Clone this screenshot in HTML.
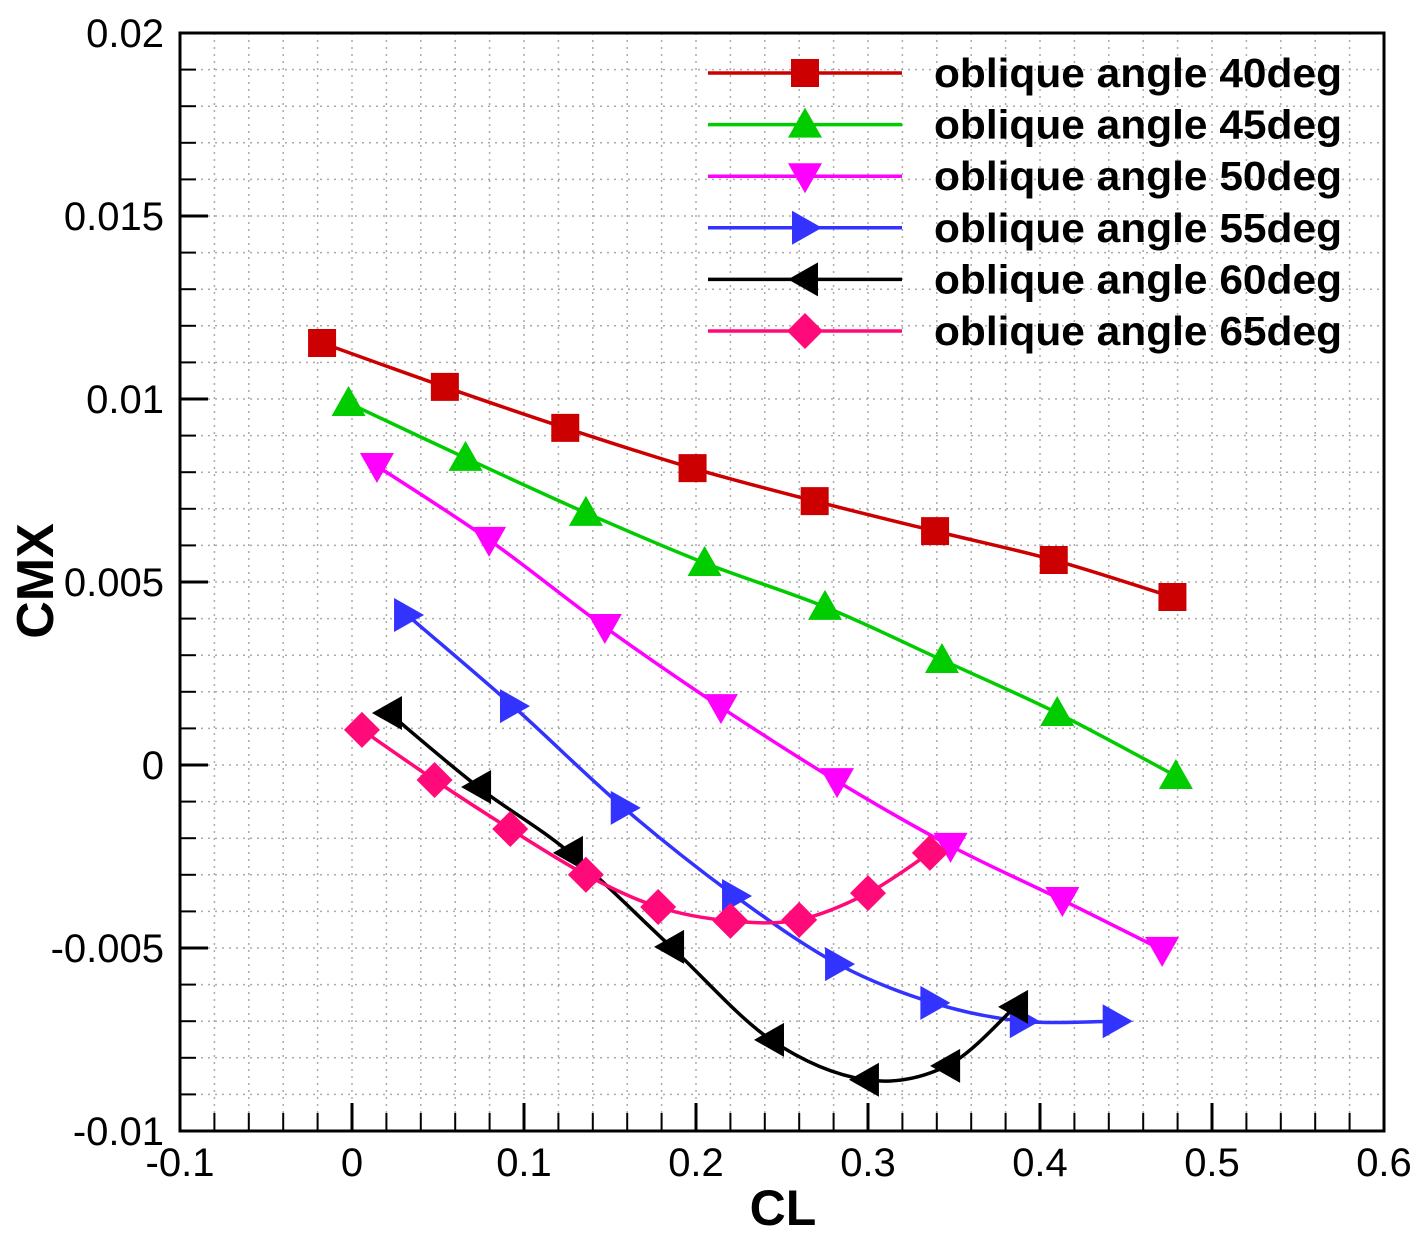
<!DOCTYPE html>
<html><head><meta charset="utf-8"><style>
html,body{margin:0;padding:0;background:#fff;}
svg{display:block;font-family:"Liberation Sans",Arial,sans-serif;}
</style></head><body>
<svg id="chart" width="1424" height="1238" viewBox="0 0 1424 1238">
<g id="grid"></g>
<g id="ticks"></g>
<g id="series"></g>
<g id="legend"></g>
<rect x="180" y="33" width="1204" height="1098" fill="none" stroke="#000" stroke-width="3"/>
<text x="783" y="1225" font-size="50" font-weight="bold" text-anchor="middle">CL</text>
<text transform="translate(53,581) rotate(-90)" font-size="52" font-weight="bold" text-anchor="middle">CMX</text>
</svg>
<script>
const xTicks=[-0.1,0,0.1,0.2,0.3,0.4,0.5,0.6];
const xTickLabels=["-0.1","0","0.1","0.2","0.3","0.4","0.5","0.6"];
const yTicks=[-0.01,-0.005,0,0.005,0.01,0.015,0.02];
const yTickLabels=["-0.01","-0.005","0","0.005","0.01","0.015","0.02"];
const seriesNames=["oblique angle 40deg","oblique angle 45deg","oblique angle 50deg","oblique angle 55deg","oblique angle 60deg","oblique angle 65deg"];
const cl40=[-0.0174,0.054,0.124,0.198,0.269,0.339,0.408,0.477];
const cmx40=[0.01153,0.01033,0.00921,0.00811,0.00721,0.00639,0.0056,0.00459];
const cl45=[-0.002,0.066,0.136,0.205,0.275,0.343,0.41,0.479];
const cmx45=[0.00989,0.00839,0.00689,0.00552,0.00432,0.00287,0.00142,-0.0003];
const cl50=[0.0145,0.0797,0.147,0.2145,0.282,0.348,0.413,0.471];
const cmx50=[0.00817,0.00615,0.00377,0.00158,-0.00044,-0.00221,-0.00369,-0.00505];
const cl55=[0.032,0.0936,0.158,0.2227,0.2826,0.338,0.39,0.444];
const cmx55=[0.0041,0.00161,-0.00117,-0.00358,-0.00544,-0.0065,-0.007,-0.007];
const cl60=[0.0215,0.0733,0.1267,0.1855,0.2436,0.2988,0.346,0.3855];
const cmx60=[0.00142,-0.0006,-0.0024,-0.00497,-0.00751,-0.0086,-0.00822,-0.00661];
const cl65=[0.0058,0.048,0.092,0.136,0.178,0.22,0.26,0.3,0.336];
const cmx65=[0.00096,-0.00041,-0.00175,-0.003,-0.00388,-0.00426,-0.00423,-0.0035,-0.0024];

const NS="http://www.w3.org/2000/svg";
const X0=180,X1=1384,Y0=1131,Y1=33;
const xs=v=>X0+(v+0.1)/0.7*(X1-X0);
const ys=v=>Y0-(v+0.01)/0.03*(Y0-Y1);
function mk(tag,attrs,parent){const e=document.createElementNS(NS,tag);for(const k in attrs)e.setAttribute(k,attrs[k]);parent.appendChild(e);return e;}
const grid=document.getElementById('grid'),ticks=document.getElementById('ticks'),ser=document.getElementById('series'),leg=document.getElementById('legend');
for(let i=1;i<35;i++){const v=-0.1+i*0.02;const l=mk('line',{x1:xs(v),x2:xs(v),y1:Y1,y2:Y0,stroke:'#aaa','stroke-width':1.5,'stroke-dasharray':'2,5'},grid);

const isMaj=i%5===0;const t=mk('line',{x1:xs(v),x2:xs(v),y1:Y0,y2:Y0-(isMaj?28:18),stroke:'#000','stroke-width':isMaj?3:2},ticks);
}
for(let i=1;i<30;i++){const v=-0.01+i*0.001;const l=mk('line',{x1:X0,x2:X1,y1:ys(v),y2:ys(v),stroke:'#aaa','stroke-width':1.5,'stroke-dasharray':'2,5'},grid);

const isMaj=i%5===0;const t=mk('line',{x1:X0,x2:X0+(isMaj?28:16),y1:ys(v),y2:ys(v),stroke:'#000','stroke-width':isMaj?3:2},ticks);
}
xTicks.forEach((v,i)=>{const t=mk('text',{x:xs(v),y:Y0+45,'font-size':40,'text-anchor':'middle'},ticks);t.textContent=xTickLabels[i];
});
yTicks.forEach((v,i)=>{const t=mk('text',{x:X0-16,y:ys(v)+14,'font-size':40,'text-anchor':'end'},ticks);t.textContent=yTickLabels[i];
});
function spline(pts){let d='M'+pts[0][0]+','+pts[0][1];for(let i=0;i<pts.length-1;i++){const p0=pts[i-1]||pts[i],p1=pts[i],p2=pts[i+1],p3=pts[i+2]||p2;
d+=' C'+(p1[0]+(p2[0]-p0[0])/6)+','+(p1[1]+(p2[1]-p0[1])/6)+' '+(p2[0]-(p3[0]-p1[0])/6)+','+(p2[1]-(p3[1]-p1[1])/6)+' '+p2[0]+','+p2[1];}return d;}
const R=16;
function marker(type,x,y,color,parent){let d;
if(type==='sq')d=`M${x-14},${y-14}h28v28h-28z`;
else if(type==='up')d=`M${x},${y-17}L${x+17},${y+13}L${x-17},${y+13}z`;
else if(type==='down')d=`M${x},${y+17}L${x+17},${y-13}L${x-17},${y-13}z`;
else if(type==='right')d=`M${x+17},${y}L${x-13},${y+17}L${x-13},${y-17}z`;
else if(type==='left')d=`M${x-17},${y}L${x+13},${y+17}L${x+13},${y-17}z`;
else d=`M${x},${y-R-2}L${x+R+2},${y}L${x},${y+R+2}L${x-R-2},${y}z`;
return mk('path',{d:d,fill:color},parent);}
const S=[[cl40,cmx40,'#cc0000','sq'],[cl45,cmx45,'#00cc00','up'],[cl50,cmx50,'#ff00ff','down'],[cl55,cmx55,'#3333ff','right'],[cl60,cmx60,'#000000','left'],[cl65,cmx65,'#ff0a78','dia']];
S.forEach((s,k)=>{const g=mk('g',{},ser);
const pts=s[0].map((v,i)=>[xs(v),ys(s[1][i])]);
const p=mk('path',{d:spline(pts),fill:'none',stroke:s[2],'stroke-width':3.5},g);

pts.forEach(q=>{const m=marker(s[3],q[0],q[1],s[2],g);});
const ly=73+k*51.6;const lg=mk('g',{},leg);
mk('line',{x1:708,x2:902,y1:ly,y2:ly,stroke:s[2],'stroke-width':3.5},lg);
marker(s[3],805,ly,s[2],lg);
const t=mk('text',{x:934,y:ly+14,'font-size':41,'font-weight':'bold',textLength:408,lengthAdjust:'spacingAndGlyphs'},lg);t.textContent=seriesNames[k];
});
</script>
</body></html>
